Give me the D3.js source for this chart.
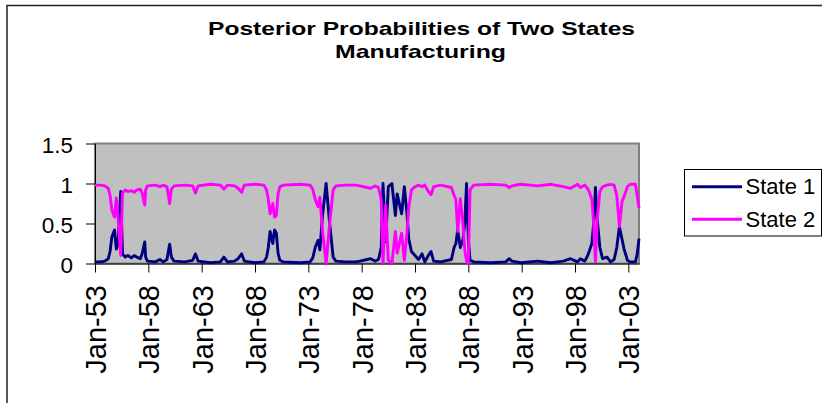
<!DOCTYPE html>
<html>
<head>
	<meta charset="utf-8"/>
	<script src="https://d3js.org/d3.v7.min.js"></script>
	<style>
		body{margin:0;background:#fff;}
		text{font-family:"Liberation Sans",Arial,sans-serif;fill:#000;}
	</style>
</head>
<body>
<script>
// monthly posterior probabilities, key points
var dates = ["1953-01","1953-07","1953-12","1954-04","1954-06","1954-08","1954-11","1955-01","1955-03","1955-06",
	"1955-08","1955-11","1956-02","1956-06","1956-09","1956-12","1957-04","1957-06","1957-09","1957-10",
	"1957-12","1958-09","1959-02","1959-06","1959-10","1960-01","1960-03","1960-06","1961-06","1962-03",
	"1962-06","1962-09","1963-11","1964-10","1965-02","1965-06","1966-02","1966-06","1966-10","1967-01",
	"1968-01","1968-11","1969-02","1969-04","1969-06","1969-09","1969-11","1970-01","1970-03","1970-05",
	"1970-09","1972-04","1973-03","1973-06","1973-09","1973-12","1974-02","1974-05","1974-09","1975-01",
	"1975-05","1975-08","1976-07","1977-06","1977-11","1978-07","1978-11","1979-04","1979-08","1979-11",
	"1980-01","1980-04","1980-07","1980-11","1981-03","1981-05","1981-10","1982-01","1982-04","1982-06",
	"1982-09","1983-01","1983-05","1983-09","1983-12","1984-04","1984-07","1984-10","1985-06","1986-06",
	"1986-09","1986-11","1987-01","1987-04","1987-07","1987-09","1987-11","1988-01","1988-03","1988-07",
	"1990-02","1991-07","1991-11","1992-02","1992-12","1994-07","1995-10","1996-12","1997-08","1998-04",
	"1998-07","1998-12","1999-03","1999-05","1999-08","1999-10","1999-12","2000-02","2000-05","2000-08",
	"2001-01","2001-05","2001-09","2001-12","2002-03","2002-06","2002-08","2002-12","2003-03","2003-09",
	"2003-11","2004-01"];

var state1 = [0.02,0.02,0.03,0.06,0.15,0.33,0.42,0.18,0.25,0.90,
	0.12,0.08,0.10,0.07,0.10,0.08,0.06,0.12,0.27,0.08,
	0.03,0.02,0.05,0.02,0.05,0.24,0.08,0.03,0.02,0.04,
	0.12,0.03,0.01,0.02,0.08,0.02,0.03,0.06,0.12,0.03,
	0.01,0.02,0.08,0.20,0.40,0.25,0.42,0.38,0.13,0.04,
	0.02,0.01,0.02,0.07,0.21,0.29,0.17,0.60,1.00,0.50,
	0.08,0.03,0.02,0.02,0.03,0.05,0.06,0.03,0.05,0.20,
	1.00,0.27,0.96,1.00,0.60,0.87,0.62,0.96,0.62,0.31,
	0.15,0.10,0.05,0.12,0.02,0.10,0.15,0.03,0.02,0.05,
	0.20,0.25,0.42,0.20,0.30,0.50,1.00,0.30,0.04,0.02,
	0.01,0.02,0.06,0.03,0.01,0.03,0.01,0.03,0.06,0.02,
	0.06,0.03,0.09,0.15,0.25,0.50,0.95,0.55,0.20,0.06,
	0.08,0.02,0.05,0.20,0.46,0.30,0.19,0.04,0.02,0.02,
	0.12,0.31];

var state2 = [0.98,0.98,0.97,0.94,0.85,0.67,0.58,0.82,0.57,0.10,
	0.88,0.92,0.90,0.91,0.89,0.92,0.93,0.88,0.73,0.92,
	0.97,0.98,0.96,0.98,0.96,0.75,0.93,0.97,0.98,0.97,
	0.88,0.97,0.99,0.98,0.93,0.98,0.97,0.94,0.89,0.98,
	0.99,0.98,0.92,0.80,0.62,0.75,0.58,0.60,0.87,0.96,
	0.98,0.99,0.98,0.93,0.79,0.71,0.83,0.40,0.00,0.50,
	0.92,0.97,0.98,0.98,0.97,0.95,0.94,0.97,0.95,0.80,
	0.00,0.73,0.04,0.00,0.40,0.13,0.38,0.04,0.38,0.69,
	0.92,0.96,0.98,0.96,0.98,0.90,0.86,0.96,0.98,0.95,
	0.85,0.80,0.40,0.81,0.50,0.17,0.03,0.00,0.92,0.98,
	0.99,0.98,0.95,0.97,0.99,0.97,0.99,0.96,0.94,0.99,
	0.95,0.98,0.94,0.90,0.80,0.50,0.02,0.55,0.90,0.96,
	0.98,0.99,0.98,0.85,0.46,0.78,0.83,0.96,0.99,0.99,
	0.85,0.69];

var seriesNames = ["State 1","State 2"];
var seriesColors = ["#000080","#FF00FF"];
var yTicks = [0,0.5,1,1.5];
var xTickYears = [1953,1958,1963,1968,1973,1978,1983,1988,1993,1998,2003];

var W = 822, H = 403;
var plotL = 95, plotR = 639, plotT = 143.5, plotB = 263.5;

var parse = d3.timeParse("%Y-%m");
var svg = d3.select("body").append("svg").attr("width",W).attr("height",H);

// outer chart border
svg.append("rect").attr("x",7).attr("y",5.5).attr("width",840).attr("height",420)
	.attr("fill","none").attr("stroke","#222").attr("stroke-width",1.5);

// title
svg.append("text").attr("x",421.5).attr("y",34.5).attr("text-anchor","middle")
	.attr("font-size",18.5).attr("font-weight","bold")
	.attr("textLength",427).attr("lengthAdjust","spacingAndGlyphs")
	.text("Posterior Probabilities of Two States");
svg.append("text").attr("x",420.5).attr("y",57.5).attr("text-anchor","middle")
	.attr("font-size",18.5).attr("font-weight","bold")
	.attr("textLength",171).attr("lengthAdjust","spacingAndGlyphs")
	.text("Manufacturing");

var x = d3.scaleTime().domain([parse("1953-01"),parse("2004-01")]).range([plotL,plotR]);
var y = d3.scaleLinear().domain([0,1.5]).range([plotB,plotT]);

// plot area
svg.append("rect").attr("x",plotL).attr("y",plotT).attr("width",plotR-plotL).attr("height",plotB-plotT)
	.attr("fill","#C0C0C0").attr("stroke","#808080").attr("stroke-width",2);

var yAxis = svg.append("g").attr("transform","translate("+plotL+",0)")
	.call(d3.axisLeft(y).tickValues(yTicks).tickSize(9).tickSizeOuter(0).tickPadding(13).tickFormat(function(d){return d;}));
yAxis.attr("font-family",null);
yAxis.selectAll("text").attr("font-size",22.5).attr("dy","0.4em");

var xAxis = svg.append("g").attr("transform","translate(0,"+plotB+")")
	.call(d3.axisBottom(x).tickValues(xTickYears.map(function(yr){return new Date(yr,0,1);}))
		.tickSize(9).tickSizeOuter(0).tickFormat(d3.timeFormat("%b-%y")));
xAxis.attr("font-family",null);
xAxis.selectAll("text").attr("font-size",29)
	.attr("transform","rotate(-90)").attr("text-anchor","end")
	.attr("x",-21.5).attr("y",0).attr("dy","0.36em");

svg.selectAll(".domain").attr("stroke","#000");
svg.selectAll(".tick line").attr("stroke","#000");

// series lines
var line = d3.line().x(function(d){return x(d.date);}).y(function(d){return y(d.v);});
[state1,state2].forEach(function(vals,i){
	var dd = dates.map(function(s,j){return {date:parse(s),v:vals[j]};});
	svg.append("path").datum(dd).attr("d",line)
		.attr("fill","none").attr("stroke",seriesColors[i]).attr("stroke-width",2.9)
		.attr("stroke-linejoin","round");
});

// legend
var lg = svg.append("g");
lg.append("rect").attr("x",684.5).attr("y",169.5).attr("width",137).attr("height",66.5)
	.attr("fill","#fff").attr("stroke","#000").attr("stroke-width",1);
seriesNames.forEach(function(name,i){
	var ly = 186.7 + i*32.5;
	lg.append("line").attr("x1",692).attr("x2",742).attr("y1",ly).attr("y2",ly)
		.attr("stroke",seriesColors[i]).attr("stroke-width",2.9);
	lg.append("text").attr("x",745.5).attr("y",ly+7.5).attr("font-size",22).text(name);
});
</script>
</body>
</html>
